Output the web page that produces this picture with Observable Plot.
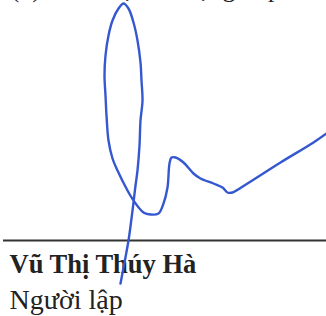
<!DOCTYPE html>
<html>
<head>
<meta charset="utf-8">
<script src="https://cdn.jsdelivr.net/npm/d3@7"></script>
<script src="https://cdn.jsdelivr.net/npm/@observablehq/plot@0.6"></script>
<style>
  html, body { margin: 0; padding: 0; background: #fff; }
  #chart { width: 326px; height: 316px; overflow: hidden; }
</style>
</head>
<body>
<div id="chart"></div>
<script>
// Signature stroke (in image units)
const sigX = [120,124,128,131,133,135,137,139,140,142,141,140,137,133,128,123,
              118,112,108,105,104,105,106,108,112,117,127,133,143,150,158,163,167,169,171,175,183,193,200,213,222,227,232,247,280,313,326];
const sigY = [283,262,240,218,202,185,170,145,120,100,80,62,40,22,8,3,
              8,20,35,55,75,95,115,140,158,170,190,200,212,214,213,203,187,163,157,157,162,173,178,183,187,192,192,183,162,142,133];
// Horizontal signature rule
const ruleLevel = [240];
// Texts
const topLine = ["(*) Xác nhận sử dụng tiếp"];
const nameLine = ["Vũ Thị Thúy Hà"];
const roleLine = ["Người lập"];

const sig = sigX.map((x, i) => ({x, y: sigY[i]}));

const chart = Plot.plot({
  width: 326,
  height: 316,
  margin: 0,
  x: {domain: [0, 326], range: [0, 326], axis: null},
  y: {domain: [0, 316], range: [0, 316], axis: null},
  style: {background: "#fff"},
  marks: [
    Plot.text(topLine, {x: 10, y: -4, text: d => d, textAnchor: "start", lineAnchor: "bottom",
      fontSize: 26, fontFamily: "Liberation Serif", fill: "#222"}),
    Plot.ruleY(ruleLevel, {x1: 3, x2: 326, stroke: "#333", strokeWidth: 2}),
    Plot.text(nameLine, {x: 9, y: 272, text: d => d, textAnchor: "start", lineAnchor: "bottom",
      fontSize: 26.5, fontWeight: "bold", fontFamily: "Liberation Serif", fill: "#222"}),
    Plot.text(roleLine, {x: 9, y: 308, text: d => d, textAnchor: "start", lineAnchor: "bottom",
      fontSize: 28, fontFamily: "Liberation Serif", fill: "#222"}),
    Plot.line(sig, {x: "x", y: "y", curve: "catmull-rom", stroke: "#3558d0", strokeWidth: 2.4,
      strokeLinecap: "round", strokeLinejoin: "round"})
  ]
});
document.getElementById("chart").append(chart);
</script>
</body>
</html>
